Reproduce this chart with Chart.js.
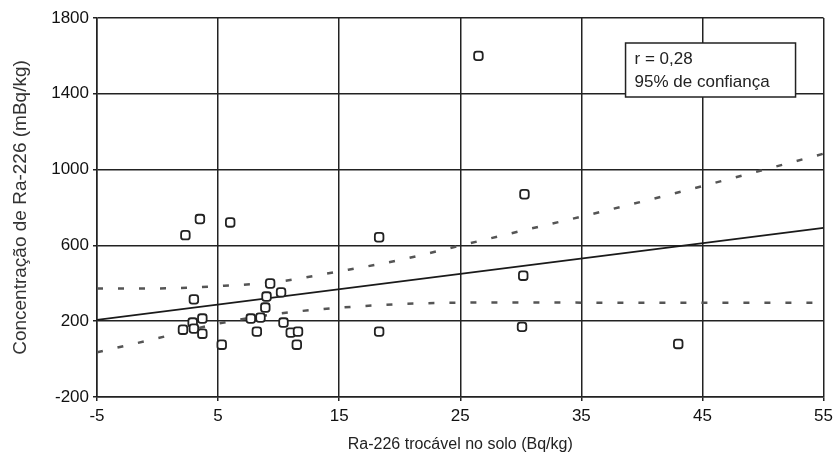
<!DOCTYPE html>
<html>
<head>
<meta charset="utf-8">
<script src="https://cdn.jsdelivr.net/npm/chart.js@4.4.1/dist/chart.umd.min.js"></script>
<style>
  html, body { margin: 0; padding: 0; background: #fff; }
  #wrap { width: 838px; height: 468px; position: relative; }
</style>
</head>
<body>
<div id="wrap"><canvas id="chart"></canvas></div>
<script>
// Exchangeable Ra-226 in soil (Bq/kg) vs Ra-226 concentration (mBq/kg)
const soilRa = [26.5, 30.3, 30.2, 30.1, 43.0, 18.3, 18.3, 6.0, 3.5, 2.3,
                3.0, 3.7, 2.9, 2.1, 3.0, 3.7, 5.3, 9.3, 10.2, 9.0,
                8.9, 7.7, 8.5, 8.2, 10.4, 11.0, 11.6, 11.5];
const plantRa = [1600, 870, 440, 170, 80, 643, 145, 721, 739, 654,
                 315, 214, 193, 155, 161, 134, 76, 399, 352, 330,
                 272, 214, 219, 145, 193, 140, 145, 76];

// Fitted regression line (end points)
const fitX = [-5, 55];
const fitY = [207, 693];

// 95% confidence band
const bandX     = [-5, 0, 5, 10, 15, 20, 25, 30, 35, 40, 45, 50, 55];
const bandUpper = [373, 373, 385, 409, 463, 523, 599, 676, 752, 831, 913, 998, 1084];
const bandLower = [36, 110, 187, 240, 271, 290, 298, 299, 298, 297, 297, 297, 297];

// Axis ticks
const xTicks = [-5, 5, 15, 25, 35, 45, 55];
const yTicks = [-200, 200, 600, 1000, 1400, 1800];

const legendLines = ['r = 0,28', '95% de confiança'];

const FONT = "'Liberation Sans', Arial, sans-serif";
const toXY = (xs, ys) => xs.map((x, i) => ({ x: x, y: ys[i] }));

const statsBox = {
  id: 'statsBox',
  afterDraw(chart) {
    const ctx = chart.ctx;
    const a = chart.chartArea;
    const x0 = a.right - 198, y0 = a.top + 25, w = 170, h = 54;
    ctx.save();
    ctx.fillStyle = '#fff';
    ctx.fillRect(x0, y0, w, h);
    ctx.strokeStyle = '#222';
    ctx.lineWidth = 1.5;
    ctx.strokeRect(x0, y0, w, h);
    ctx.fillStyle = '#222';
    ctx.font = '17px ' + FONT;
    ctx.textBaseline = 'middle';
    ctx.fillText(legendLines[0], x0 + 9, y0 + 16);
    ctx.fillText(legendLines[1], x0 + 9, y0 + 39);
    ctx.restore();
  }
};

new Chart(document.getElementById('chart'), {
  type: 'scatter',
  data: {
    datasets: [
      {
        label: 'amostras',
        data: toXY(soilRa, plantRa),
        pointStyle: 'rectRounded',
        pointRadius: 5,
        pointHoverRadius: 5,
        borderColor: '#222',
        backgroundColor: '#fff',
        borderWidth: 1.8
      },
      {
        label: 'regressão',
        data: toXY(fitX, fitY),
        showLine: true,
        pointRadius: 0,
        borderColor: '#1a1a1a',
        borderWidth: 1.8
      },
      {
        label: 'limite superior',
        data: toXY(bandX, bandUpper),
        showLine: true,
        pointRadius: 0,
        cubicInterpolationMode: 'monotone',
        borderColor: '#555',
        borderWidth: 2.5,
        borderDash: [6, 15]
      },
      {
        label: 'limite inferior',
        data: toXY(bandX, bandLower),
        showLine: true,
        pointRadius: 0,
        cubicInterpolationMode: 'monotone',
        borderColor: '#555',
        borderWidth: 2.5,
        borderDash: [6, 15]
      }
    ]
  },
  options: {
    responsive: true,
    maintainAspectRatio: false,
    animation: false,
    events: [],
    layout: { padding: { top: 18, right: 5, left: 0, bottom: 0 } },
    plugins: {
      legend: { display: false },
      tooltip: { enabled: false }
    },
    scales: {
      x: {
        type: 'linear',
        min: -5,
        max: 55,
        afterBuildTicks: s => { s.ticks = xTicks.map(v => ({ value: v })); },
        afterFit: s => { s.height = 71; },
        grid: { color: '#222', lineWidth: 1.5, tickLength: 4 },
        border: { color: '#222', width: 1.5 },
        ticks: {
          color: '#111',
          font: { family: FONT, size: 17 },
          padding: 5,
          callback: v => String(v)
        },
        title: {
          display: true,
          text: 'Ra-226 trocável no solo (Bq/kg)',
          color: '#222',
          font: { family: FONT, size: 16 },
          padding: { top: 4, bottom: 14 }
        }
      },
      y: {
        type: 'linear',
        min: -200,
        max: 1800,
        afterBuildTicks: s => { s.ticks = yTicks.map(v => ({ value: v })); },
        afterFit: s => { s.width = 97; },
        grid: { color: '#222', lineWidth: 1.5, tickLength: 4 },
        border: { color: '#222', width: 1.5 },
        ticks: {
          color: '#111',
          font: { family: FONT, size: 17 },
          padding: 4,
          callback: v => String(v)
        },
        title: {
          display: true,
          text: 'Concentração de Ra-226 (mBq/kg)',
          color: '#333',
          font: { family: FONT, size: 19 },
          padding: { top: 9, bottom: 2 }
        }
      }
    }
  },
  plugins: [statsBox]
});
</script>
</body>
</html>
